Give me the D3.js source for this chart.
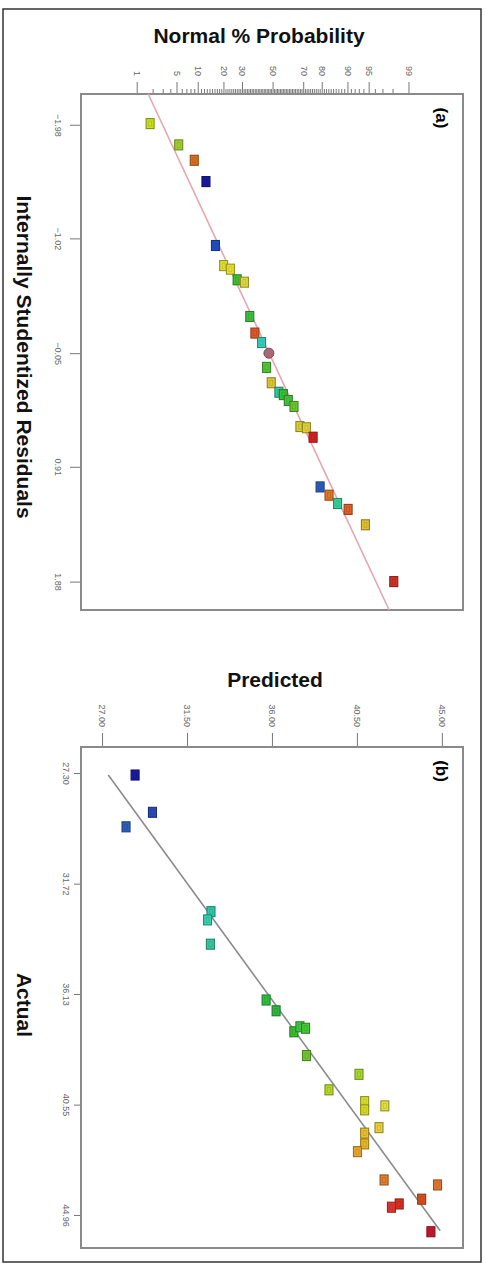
<!DOCTYPE html>
<html lang="en">
<head>
  <meta charset="UTF-8">
  <title>D3</title>
  <script src="https://d3js.org/d3.v7.min.js"></script>
  <style>
    body { margin: 0; background: #fff; }
    text { font-family: "Liberation Sans", Arial, sans-serif; }
    .tick text { fill: #666; font-size: 9px; }
    .tick line { stroke: #777; }
    .title { font-weight: bold; font-size: 21px; fill: #111; }
  </style>
</head>
<body>
  <svg></svg>
  <script>
    // panel (a): normal probability plot of residuals
    const probTicks = [1, 5, 10, 20, 30, 50, 70, 80, 90, 95, 99];
    const resTicks = [-1.98, -1.02, -0.05, 0.91, 1.88];
    const probPct = [1.8, 5.4, 9.0, 12.7, 16.4, 20.1, 23.5, 27.2, 31.5, 34.8, 38.1, 42.5, 47.5, 45.9,
                     49.1, 54.3, 57.3, 60.6, 64.3, 68.0, 71.9, 75.6, 79.2, 83.3, 86.7, 90.2, 94.4, 98.1];
    const residuals = [-1.99, -1.81, -1.68, -1.50, -0.96, -0.79, -0.76, -0.67, -0.65, -0.36, -0.22, -0.14, -0.05, 0.07,
                       0.20, 0.28, 0.30, 0.35, 0.40, 0.57, 0.58, 0.66, 1.08, 1.15, 1.22, 1.27, 1.40, 1.88];
    const colorsA = ["#c8e020", "#a0d030", "#d87020", "#1818a0", "#2050c0", "#e0e030", "#e8e030", "#40c030",
                     "#e0d840", "#40c040", "#e05828", "#38d0b8", "#a86878", "#50c838", "#e0c830", "#38c8a0",
                     "#38c038", "#48c040", "#68c830", "#d8d030", "#e0d038", "#d82020", "#2860c0", "#e07828",
                     "#38d098", "#e06028", "#e0c030", "#d03028"];
    const shapesA = residuals.map((d, i) => i === 12 ? "circle" : "square");
    const fitA = [{res: -2.24, pct: 1.66}, {res: 2.12, pct: 97.7}];

    // panel (b): predicted vs actual
    const actualTicks = [27.30, 31.72, 36.13, 40.55, 44.96];
    const predTicks = [27.00, 31.50, 36.00, 40.50, 45.00];
    const actualB = [27.38, 28.87, 29.45, 32.84, 33.17, 34.14, 36.37, 36.80, 37.64, 37.44, 37.50, 38.59, 39.34, 39.96,
                     40.43, 40.76, 40.60, 41.47, 41.69, 42.12, 42.43, 43.56, 43.76, 44.33, 44.52, 44.65, 45.63];
    const predictedB = [28.75, 29.67, 28.27, 32.77, 32.59, 32.74, 35.69, 36.22, 37.16, 37.48, 37.78, 37.83, 40.61, 39.02,
                        40.91, 40.91, 41.98, 41.67, 40.91, 40.91, 40.53, 41.94, 44.77, 43.93, 42.74, 42.33, 44.42];
    const colorsB = ["#1a1aa0", "#2a4ab8", "#2a60c0", "#30c8a8", "#38d0b0", "#38c8a0", "#30c040", "#30b840", "#38c030",
                     "#40c840", "#48c838", "#70c830", "#a8d830", "#b8d828", "#d8e030", "#d8d828", "#e0e040", "#e8d040",
                     "#e8c030", "#e8b828", "#e8a830", "#e08030", "#e07830", "#d85020", "#d83020", "#e03830", "#c81830"];
    const fitB = [{actual: 27.38, pred: 27.33}, {actual: 45.59, pred: 44.91}];

    const width = 486, height = 1269;
    const svg = d3.select("svg").attr("width", width).attr("height", height);

    // inverse normal cdf (Acklam)
    function probit(p) {
      const a = [-39.69683028665376, 220.9460984245205, -275.9285104469687, 138.3577518672690, -30.66479806614716, 2.506628277459239];
      const b = [-54.47609879822406, 161.5858368580409, -155.6989798598866, 66.80131188771972, -13.28068155222083];
      const c = [-7.784894002430293e-03, -3.223964580411365e-01, -2.400758277161838, -2.549732539343734, 4.374664141464968, 2.938163982698783];
      const d = [7.784695709041462e-03, 3.224671290700398e-01, 2.445134137142996, 3.754408661907416];
      const pl = 0.02425;
      let q, r;
      if (p < pl) {
        q = Math.sqrt(-2 * Math.log(p));
        return (((((c[0]*q+c[1])*q+c[2])*q+c[3])*q+c[4])*q+c[5]) / ((((d[0]*q+d[1])*q+d[2])*q+d[3])*q+1);
      }
      if (p > 1 - pl) {
        q = Math.sqrt(-2 * Math.log(1 - p));
        return -(((((c[0]*q+c[1])*q+c[2])*q+c[3])*q+c[4])*q+c[5]) / ((((d[0]*q+d[1])*q+d[2])*q+d[3])*q+1);
      }
      q = p - 0.5; r = q * q;
      return (((((a[0]*r+a[1])*r+a[2])*r+a[3])*r+a[4])*r+a[5])*q / (((((b[0]*r+b[1])*r+b[2])*r+b[3])*r+b[4])*r+1);
    }

    svg.append("rect")
      .attr("x", 3).attr("y", 9).attr("width", 478).attr("height", 1253)
      .attr("fill", "none").attr("stroke", "#333").attr("stroke-width", 1.5);

    function drawSquares(g, pts) {
      const s = g.selectAll("g.pt").data(pts).enter().append("g").attr("class", "pt")
        .attr("transform", d => `translate(${d.x},${d.y})`);
      s.filter(d => d.shape !== "circle").append("rect")
        .attr("x", -4).attr("y", -5).attr("width", 8).attr("height", 10)
        .attr("fill", d => d.c).attr("stroke", d => d3.color(d.c).darker(1.2)).attr("stroke-width", 1.1);
      s.filter(d => d.shape !== "circle").append("rect")
        .attr("x", -1.5).attr("y", -2.5).attr("width", 3).attr("height", 5)
        .attr("fill", "none").attr("stroke", d => d3.color(d.c).darker(0.5)).attr("stroke-width", 0.7);
      s.filter(d => d.shape === "circle").append("circle")
        .attr("r", 5).attr("fill", d => d.c).attr("stroke", d => d3.color(d.c).darker(1)).attr("stroke-width", 1);
    }

    function rotateTopLabels(ax, off) {
      ax.selectAll(".tick text")
        .attr("x", 0).attr("y", 0).attr("dy", "0.35em")
        .attr("transform", `translate(0,${-off}) rotate(90)`)
        .style("text-anchor", "end");
    }
    function rotateLeftLabels(ax, off) {
      ax.selectAll(".tick text")
        .attr("x", 0).attr("y", 0).attr("dy", "0.35em")
        .attr("transform", `translate(${-off},0) rotate(90)`)
        .style("text-anchor", "middle");
    }

    // ---------- panel (a) ----------
    const fa = {left: 81, right: 463, top: 94, bottom: 610};
    const xZ = d3.scaleLinear().domain([-3.28, 3.26]).range([fa.left, fa.right]);
    const yRes = d3.scaleLinear().domain([-2.24, 2.12]).range([fa.top, fa.bottom]);
    const xP = p => xZ(probit(p / 100));

    const minorP = d3.range(1, 100).filter(p => probTicks.indexOf(p) < 0);
    const minorAx = svg.append("g").attr("transform", `translate(0,${fa.top})`)
      .call(d3.axisTop(xZ).tickValues(minorP.map(p => probit(p / 100))).tickSize(5).tickFormat(""));
    minorAx.select(".domain").remove();
    const probAx = svg.append("g").attr("transform", `translate(0,${fa.top})`)
      .call(d3.axisTop(xZ).tickValues(probTicks.map(p => probit(p / 100))).tickSize(12)
        .tickFormat((d, i) => probTicks[i]));
    probAx.select(".domain").remove();
    rotateTopLabels(probAx, 18);

    const resAx = svg.append("g").attr("transform", `translate(${fa.left},0)`)
      .call(d3.axisLeft(yRes).tickValues(resTicks).tickSize(11).tickFormat(d3.format(".2f")));
    resAx.select(".domain").remove();
    rotateLeftLabels(resAx, 23);

    svg.append("rect")
      .attr("x", fa.left).attr("y", fa.top)
      .attr("width", fa.right - fa.left).attr("height", fa.bottom - fa.top)
      .attr("fill", "none").attr("stroke", "#8a8a8a").attr("stroke-width", 2);

    svg.append("path").datum(fitA)
      .attr("d", d3.line().x(d => xP(d.pct)).y(d => yRes(d.res)))
      .attr("stroke", "#e6a6ae").attr("stroke-width", 1.6).attr("fill", "none");

    const ptsA = residuals.map((r, i) => ({x: xP(probPct[i]), y: yRes(r), c: colorsA[i], shape: shapesA[i]}));
    drawSquares(svg.append("g"), ptsA);

    svg.append("text").attr("class", "title")
      .attr("x", 259).attr("y", 43).attr("text-anchor", "middle")
      .text("Normal % Probability");
    svg.append("text").attr("class", "title")
      .attr("text-anchor", "middle")
      .attr("transform", "translate(17,357) rotate(90)")
      .text("Internally Studentized Residuals");
    svg.append("text")
      .attr("transform", "translate(436,118) rotate(90)")
      .attr("text-anchor", "middle")
      .style("font-weight", "bold").style("font-size", "17px")
      .text("(a)");

    // ---------- panel (b) ----------
    const fb = {left: 81, right: 463, top: 747, bottom: 1248};
    const xPred = d3.scaleLinear().domain([25.885, 46.12]).range([fb.left, fb.right]);
    const yAct = d3.scaleLinear().domain([26.26, 46.28]).range([fb.top, fb.bottom]);

    const predAx = svg.append("g").attr("transform", `translate(0,${fb.top})`)
      .call(d3.axisTop(xPred).tickValues(predTicks).tickSize(14).tickFormat(d3.format(".2f")));
    predAx.select(".domain").remove();
    rotateTopLabels(predAx, 20);

    const actAx = svg.append("g").attr("transform", `translate(${fb.left},0)`)
      .call(d3.axisLeft(yAct).tickValues(actualTicks).tickSize(7).tickFormat(d3.format(".2f")));
    actAx.select(".domain").remove();
    rotateLeftLabels(actAx, 15);

    svg.append("rect")
      .attr("x", fb.left).attr("y", fb.top)
      .attr("width", fb.right - fb.left).attr("height", fb.bottom - fb.top)
      .attr("fill", "none").attr("stroke", "#8a8a8a").attr("stroke-width", 2);

    svg.append("path").datum(fitB)
      .attr("d", d3.line().x(d => xPred(d.pred)).y(d => yAct(d.actual)))
      .attr("stroke", "#8c8c8c").attr("stroke-width", 1.6).attr("fill", "none");

    const ptsB = actualB.map((a, i) => ({x: xPred(predictedB[i]), y: yAct(a), c: colorsB[i], shape: "square"}));
    drawSquares(svg.append("g"), ptsB);

    svg.append("text").attr("class", "title")
      .attr("x", 275).attr("y", 687).attr("text-anchor", "middle")
      .text("Predicted");
    svg.append("text").attr("class", "title")
      .attr("text-anchor", "middle")
      .attr("transform", "translate(17,1005) rotate(90)")
      .text("Actual");
    svg.append("text")
      .attr("transform", "translate(436,771) rotate(90)")
      .attr("text-anchor", "middle")
      .style("font-weight", "bold").style("font-size", "17px")
      .text("(b)");
  </script>
</body>
</html>
